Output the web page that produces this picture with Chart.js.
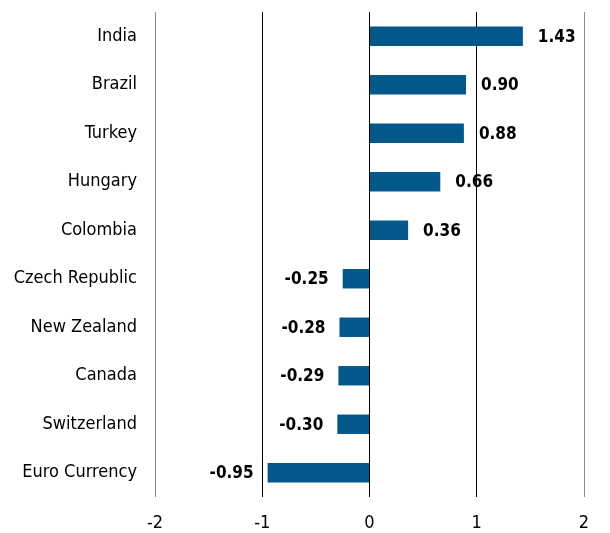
<!DOCTYPE html>
<html><head><meta charset="utf-8">
<script src="https://cdn.jsdelivr.net/npm/chart.js@4"></script>
<style>html,body{margin:0;padding:0;background:#fff}#wrap{width:610px;height:533px}</style>
</head><body><div id="wrap"><canvas id="c" width="610" height="533"></canvas></div>
<script>
const categories = ["India","Brazil","Turkey","Hungary","Colombia","Czech Republic","New Zealand","Canada","Switzerland","Euro Currency"];
const values = [1.43,0.90,0.88,0.66,0.36,-0.25,-0.28,-0.29,-0.30,-0.95];
const valueLabels = ["1.43","0.90","0.88","0.66","0.36","-0.25","-0.28","-0.29","-0.30","-0.95"];
const xTicks = [-2,-1,0,1,2];
const FONT = "'Liberation Sans Narrow','Arial Narrow','DejaVu Sans Condensed',sans-serif";

const labelPlugin = {
  id:'vlabels',
  afterDatasetsDraw(chart){
    const ctx = chart.ctx;
    const meta = chart.getDatasetMeta(0);
    ctx.save();
    ctx.font = "bold 17px " + FONT;
    ctx.fillStyle = "#000";
    ctx.textBaseline = "middle";
    meta.data.forEach((bar,i)=>{
      const v = values[i];
      if (v >= 0){ ctx.textAlign="left"; ctx.fillText(valueLabels[i], bar.x+15, bar.y+1); }
      else { ctx.textAlign="right"; ctx.fillText(valueLabels[i], bar.x-14, bar.y+1); }
    });
    ctx.restore();
  }
};

new Chart(document.getElementById('c'), {
  type:'bar',
  data:{labels:categories, datasets:[{data:values, backgroundColor:'#02578b', borderWidth:0, barPercentage:0.8, categoryPercentage:0.5}]},
  options:{
    indexAxis:'y', responsive:false, animation:false,
    layout:{padding:{top:12,right:26,left:0,bottom:0}},
    plugins:{legend:{display:false}, tooltip:{enabled:false}},
    scales:{
      x:{min:-2,max:2,
        afterBuildTicks(s){ s.ticks = xTicks.map(v=>({value:v})); },
        afterFit(s){ s.height = 36; s.paddingLeft = 0; s.paddingRight = 0; },
        border:{display:false},
        grid:{drawTicks:false, color:(c)=> (c.tick && Math.abs(c.tick.value)===2) ? '#8a8a8a' : '#000', lineWidth:1},
        ticks:{padding:16, color:'#000', font:{family:FONT,size:18}, callback:(v)=>String(v)}
      },
      y:{
        afterFit(s){ s.width = 155; s.paddingTop = 0; s.paddingBottom = 0; },
        border:{display:false},
        grid:{display:false, drawTicks:false},
        ticks:{padding:18, color:'#000', font:{family:FONT,size:18}}
      }
    }
  },
  plugins:[labelPlugin]
});
</script></body></html>
